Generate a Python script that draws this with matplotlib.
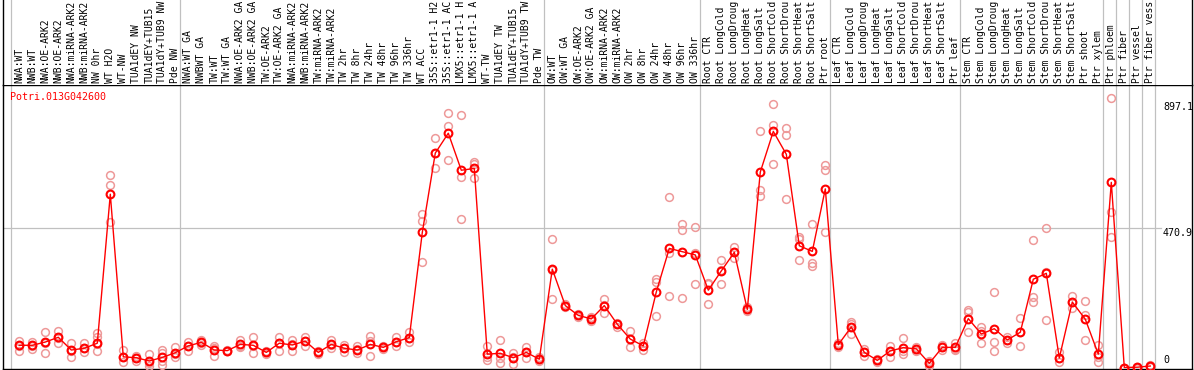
import matplotlib
matplotlib.use("Agg")
import matplotlib.pyplot as plt

# ---------------- data ----------------
gene = "Potri.013G042600"

group_sizes = [13, 28, 12, 10, 10, 11, 1, 1, 1, 1]

labels = [
    "NWA:WT", "NWB:WT", "NWA:OE-ARK2", "NWB:OE-ARK2", "NWA:miRNA-ARK2", "NWB:miRNA-ARK2",
    "NW 0hr", "WT H2O", "WT-NW", "TUA1dEY NW", "TUA1dEY+TUB15 NW", "TUA1dY+TUB9 NW", "Pde NW",
    "NWA:WT GA", "NWBWT GA", "TW:WT", "TW:WT GA", "NWA:OE-ARK2 GA", "NWB:OE-ARK2 GA",
    "TW:OE-ARK2", "TW:OE-ARK2 GA", "NWA:miRNA-ARK2 GA", "NWB:miRNA-ARK2 GA", "TW:miRNA-ARK2",
    "TW:miRNA-ARK2 GA", "TW 2hr", "TW 8hr", "TW 24hr", "TW 48hr", "TW 96hr", "TW 336hr",
    "WT ACC", "35S::etr1-1 H2O", "35S::etr1-1 ACC", "LMX5::etr1-1 H2O", "LMX5::etr1-1 ACC",
    "WT-TW", "TUA1dEY TW", "TUA1dEY+TUB15 TW", "TUA1dY+TUB9 TW", "Pde TW",
    "OW:WT", "OW:WT GA", "OW:OE-ARK2", "OW:OE-ARK2 GA", "OW:miRNA-ARK2", "OW:miRNA-ARK2 GA",
    "OW 2hr", "OW 8hr", "OW 24hr", "OW 48hr", "OW 96hr", "OW 336hr",
    "Root CTR", "Root LongCold", "Root LongDrought", "Root LongHeat", "Root LongSalt",
    "Root ShortCold", "Root ShortDrought", "Root ShortHeat", "Root ShortSalt", "Ptr root",
    "Leaf CTR", "Leaf LongCold", "Leaf LongDrought", "Leaf LongHeat", "Leaf LongSalt",
    "Leaf ShortCold", "Leaf ShortDrought", "Leaf ShortHeat", "Leaf ShortSalt", "Ptr leaf",
    "Stem CTR", "Stem LongCold", "Stem LongDrought", "Stem LongHeat", "Stem LongSalt",
    "Stem ShortCold", "Stem ShortDrought", "Stem ShortHeat", "Stem ShortSalt", "Ptr shoot",
    "Ptr xylem",
    "Ptr phloem", "Ptr fiber", "Ptr vessel", "Ptr fiber vessel",
]

means = [
    75, 75, 86, 102, 59, 65, 82, 585, 36, 33, 22, 34, 50,
    73, 85, 59, 57, 78, 75, 51, 82, 76, 89, 51, 78, 65, 59, 78, 68, 87, 101,
    456, 724, 791, 666, 672, 45, 48, 33, 51, 28,
    332, 209, 176, 164, 209, 146, 96, 73, 255, 402, 391, 380,
    261, 326, 389, 196, 660, 797, 720, 411, 392, 603,
    77, 137, 51, 24, 56, 67, 63, 14, 68, 68,
    165, 113, 131, 93, 119, 298, 318, 32, 221, 163, 45,
    625, 0, 1, 5,
]

replicates = [
    [91, 73, 57], [87, 73, 61], [119, 82, 48], [124, 98, 82], [82, 57, 37], [82, 65, 52],
    [115, 104, 79, 56], [650, 615, 490], [59, 37, 20], [39, 31, 23], [44, 16, 5],
    [58, 48, 23, 10], [70, 46, 34],
    [87, 73, 57], [93, 84, 77], [73, 66, 39], [59, 57, 55], [93, 73, 68], [102, 74, 50],
    [56, 51, 47], [104, 84, 57], [93, 78, 57], [104, 91, 73], [57, 50, 46], [93, 76, 65],
    [76, 65, 53], [73, 62, 48], [106, 91, 40], [74, 68, 61], [104, 86, 71], [119, 98, 86],
    [518, 495, 357], [774, 724, 672], [858, 815, 699], [851, 644, 500], [695, 687, 641],
    [73, 37, 25], [93, 33, 16], [50, 37, 12], [70, 51, 32], [34, 28, 22],
    [435, 329, 230], [214, 209, 203], [181, 176, 172], [172, 163, 156], [230, 210, 185],
    [151, 146, 138], [123, 95, 70], [84, 74, 59], [298, 290, 175], [577, 388, 241],
    [483, 464, 236], [473, 385, 281],
    [286, 281, 213], [363, 329, 281], [408, 391, 369], [203, 196, 190], [800, 599, 579],
    [890, 819, 687], [807, 785, 568], [442, 433, 363], [483, 352, 344], [684, 667, 456],
    [84, 77, 70], [155, 147, 112], [61, 51, 40], [29, 24, 20], [73, 56, 37],
    [98, 57, 46], [70, 64, 57], [23, 14, 5], [76, 68, 59], [82, 64, 59],
    [194, 189, 121], [136, 124, 82], [254, 85, 55], [104, 93, 82], [166, 120, 74],
    [429, 239, 222], [470, 324, 160], [53, 31, 20], [241, 222, 200], [225, 177, 93],
    [76, 37, 20],
    [909, 524, 442], [0, 0, 0], [3, 0, 0], [10, 5, 2],
]

ref_levels = [897.1, 470.9, 0]
ref_labels = ["897.1", "470.9", "0"]

# header column is only tall enough for 14 characters (as in the reference)
MAX_CHARS = 14

# ---------------- layout ----------------
W, H = 1194, 370
fig = plt.figure(figsize=(W / 100, H / 100), dpi=100)
fig.patch.set_facecolor("white")

left_px, right_px, top_px, bot_px = 2.5, 1192.0, 85.0, 369.0
ax = fig.add_axes([left_px / W, 1 - bot_px / H, (right_px - left_px) / W, (bot_px - top_px) / H])
hx = fig.add_axes([left_px / W, 1 - top_px / H, (right_px - left_px) / W, top_px / H])

x0_px, step_px = 19.3, 13.0
ax.set_xlim((left_px - x0_px) / step_px, (right_px - x0_px) / step_px)
hx.set_xlim(ax.get_xlim())
y0_px, scale = 367.5, 0.2962
ax.set_ylim((y0_px - bot_px) / scale, (y0_px - top_px) / scale)
hx.set_ylim(0, 1)

for a in (ax, hx):
    a.set_xticks([])
    a.set_yticks([])
    a.set_facecolor("white")
for s in ["left", "right", "bottom", "top"]:
    ax.spines[s].set_color("black")
    ax.spines[s].set_linewidth(1.0)
hx.spines["top"].set_visible(False)
hx.spines["bottom"].set_visible(False)
for s in ["left", "right"]:
    hx.spines[s].set_color("black")
    hx.spines[s].set_linewidth(1.0)

grid_c = "#c0c0c0"
# group separators
start = 0
for g in group_sizes + [0]:
    ax.axvline(start - 0.65, color=grid_c, lw=0.9, zorder=1)
    hx.axvline(start - 0.65, color=grid_c, lw=0.9, zorder=1)
    start += g

# horizontal reference line
ax.axhline(ref_levels[1], xmin=0, xmax=(1161 - left_px) / (right_px - left_px),
           color=grid_c, lw=0.9, zorder=1)

mono = "DejaVu Sans Mono"
fs = 7.0

# header labels
for i, lab in enumerate(labels):
    shown = lab[:MAX_CHARS].rstrip()
    hx.text(i, 0.02, shown, rotation=90, ha="center", va="bottom",
            fontsize=fs, family=mono, color="black")

# replicates
rx, ry = [], []
for i, reps in enumerate(replicates):
    for v in reps:
        rx.append(i)
        ry.append(v)
ax.plot(rx, ry, "o", mfc="none", mec="#ee9999", ms=5.6, mew=1.1, zorder=3, clip_on=False)

# means
xs = list(range(len(means)))
ax.plot(xs, means, "-", color="#ff0000", lw=1.0, zorder=4, clip_on=False)
ax.plot(xs, means, "o", mfc="none", mec="#ff0000", ms=5.6, mew=1.5, zorder=5, clip_on=False)

# title
ax.text((10 - left_px) / (right_px - left_px), 1 - 7.5 / (bot_px - top_px),
        gene, transform=ax.transAxes, ha="left", va="top", fontsize=7.2, family=mono,
        color="#ff0000")

# right axis labels
xlab = (1163 - left_px) / (right_px - left_px)
ax.text(xlab, ref_levels[0], ref_labels[0], transform=ax.get_yaxis_transform(),
        ha="left", va="top", fontsize=7.2, family=mono, color="black")
ax.text(xlab, ref_levels[1], ref_labels[1], transform=ax.get_yaxis_transform(),
        ha="left", va="top", fontsize=7.2, family=mono, color="black")
ax.text(xlab, ref_levels[2] + 7, ref_labels[2], transform=ax.get_yaxis_transform(),
        ha="left", va="bottom", fontsize=7.2, family=mono, color="black")

fig.savefig("out.png", dpi=100, facecolor="white")
